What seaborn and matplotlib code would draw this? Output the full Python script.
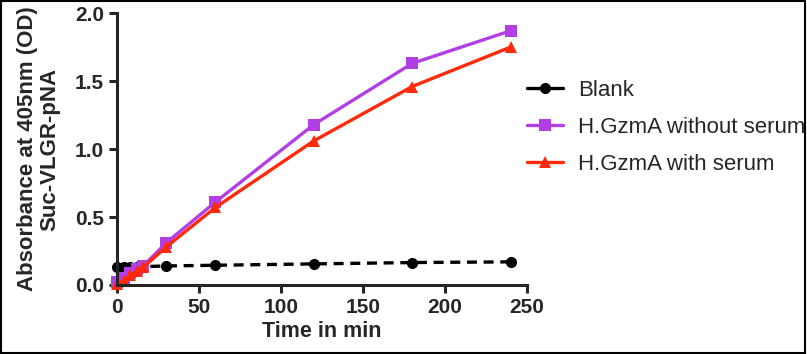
import pandas as pd
import matplotlib.pyplot as plt
import seaborn as sns

# Data
time_min = [0, 4, 8, 12, 16, 30, 60, 120, 180, 240]
blank = [0.13, 0.13, 0.13, 0.13, 0.135, 0.14, 0.145, 0.155, 0.165, 0.17]
without_serum = [0.02, 0.05, 0.09, 0.12, 0.14, 0.31, 0.61, 1.18, 1.63, 1.87]
with_serum = [0.01, 0.03, 0.07, 0.10, 0.13, 0.28, 0.57, 1.06, 1.46, 1.75]
labels = ["Blank", "H.GzmA without serum", "H.GzmA with serum"]

rows = []
for lab, vals in zip(labels, [blank, without_serum, with_serum]):
    for t, v in zip(time_min, vals):
        rows.append({"Time": t, "OD": v, "Sample": lab})
df = pd.DataFrame(rows)

sns.set_style("ticks")
plt.rcParams["font.family"] = ["Liberation Sans", "DejaVu Sans"]

fig = plt.figure(figsize=(8.07, 3.54), dpi=100)
ax = fig.add_axes([0.145, 0.195, 0.508, 0.768])

palette = {"Blank": "black", "H.GzmA without serum": "#B23FE6", "H.GzmA with serum": "#FF2A0A"}
markers = {"Blank": "o", "H.GzmA without serum": "s", "H.GzmA with serum": "^"}
dashes = {"Blank": (3, 2), "H.GzmA without serum": "", "H.GzmA with serum": ""}

sns.lineplot(data=df, x="Time", y="OD", hue="Sample", style="Sample",
             palette=palette, markers=markers, dashes=dashes, hue_order=labels,
             style_order=labels, linewidth=2.4, markersize=8, markeredgewidth=0,
             clip_on=False, ax=ax)

ax.set_xlim(0, 250)
ax.set_ylim(0, 2.0)
ax.set_xticks([0, 50, 100, 150, 200, 250])
ax.set_yticks([0.0, 0.5, 1.0, 1.5, 2.0])
ax.set_yticklabels(["0.0", "0.5", "1.0", "1.5", "2.0"])
sns.despine(ax=ax)
for s in ["left", "bottom"]:
    ax.spines[s].set_linewidth(2.2)
ax.tick_params(width=2.2, length=6, labelsize=15)
for lbl in ax.get_xticklabels() + ax.get_yticklabels():
    lbl.set_fontweight("bold")

ax.set_xlabel("Time in min", fontsize=15.5, fontweight="bold", labelpad=3)
ax.set_ylabel("Absorbance at 405nm (OD)\nSuc-VLGR-pNA", fontsize=16,
              fontweight="bold", labelpad=10, linespacing=1.1)

leg = ax.legend(loc="center left", bbox_to_anchor=(1.0, 0.58), frameon=False,
                fontsize=16, handlelength=1.6, handletextpad=0.7, labelspacing=0.72,
                borderaxespad=0, borderpad=0, title=None)
# short legend handles show as solid lines in the reference
for h in leg.legend_handles:
    h.set_linestyle("-")

fig.patches.append(plt.Rectangle((0.001, 0.002), 0.997, 0.995, transform=fig.transFigure,
                                 fill=False, edgecolor="black", linewidth=1.5))

fig.savefig("out.png", dpi=100)
